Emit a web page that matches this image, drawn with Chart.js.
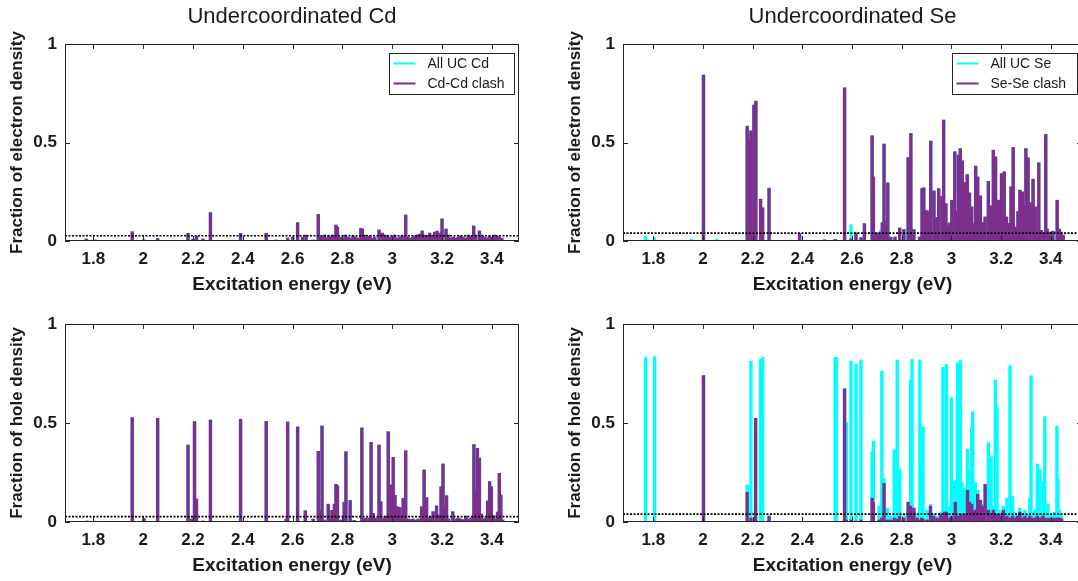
<!DOCTYPE html>
<html>
<head>
<meta charset="utf-8">
<title>Undercoordinated Cd / Se</title>
<script src="https://cdn.jsdelivr.net/npm/chart.js@4.4.1/dist/chart.umd.min.js"></script>
<style>
  html, body { margin: 0; padding: 0; background: #fff; overflow: hidden; }
  body { width: 1078px; height: 581px; position: relative; }
  canvas { position: absolute; }
</style>
</head>
<body>
<canvas id="cdElec" width="539" height="300" style="left:0;top:0"></canvas>
<canvas id="seElec" width="530" height="300" style="left:558px;top:0"></canvas>
<canvas id="cdHole" width="539" height="301" style="left:0;top:280px"></canvas>
<canvas id="seHole" width="530" height="301" style="left:558px;top:280px"></canvas>
<script>
/* ---- tick labels ---- */
const xTickValues = [1.8, 2, 2.2, 2.4, 2.6, 2.8, 3, 3.2, 3.4];
const yTickValues = [0, 0.5, 1];

/* ---- cutoff lines ---- */
const cdThreshold = 0.027;
const seThreshold = 0.04;

/* ---- Undercoordinated Cd, electron ---- */
const cdElecE = [1.771, 1.807, 1.956, 2.003, 2.058, 2.180, 2.200, 2.214, 2.240, 2.270,
  2.391, 2.494, 2.534, 2.580, 2.600, 2.620, 2.640, 2.654, 2.683, 2.703,
  2.712, 2.720, 2.728, 2.735, 2.745, 2.755, 2.763, 2.774, 2.780, 2.790,
  2.800, 2.811, 2.822, 2.832, 2.842, 2.852, 2.862, 2.874, 2.880, 2.891,
  2.900, 2.910, 2.920, 2.930, 2.947, 2.960, 2.970, 2.980, 2.990, 3.000,
  3.010, 3.020, 3.030, 3.040, 3.054, 3.062, 3.072, 3.082, 3.092, 3.100,
  3.110, 3.120, 3.130, 3.140, 3.150, 3.160, 3.170, 3.180, 3.190, 3.200,
  3.216, 3.225, 3.235, 3.245, 3.255, 3.265, 3.275, 3.285, 3.295, 3.305,
  3.315, 3.327, 3.335, 3.350, 3.360, 3.370, 3.380, 3.390, 3.400, 3.410,
  3.420, 3.430, 3.440];
const cdElecAll = [0.010, 0.005, 0.047, 0.006, 0.013, 0.039, 0.010, 0.025, 0.010, 0.144,
  0.039, 0.039, 0.005, 0.015, 0.020, 0.093, 0.020, 0.030, 0.005, 0.135,
  0.025, 0.020, 0.030, 0.015, 0.025, 0.020, 0.030, 0.081, 0.070, 0.020,
  0.015, 0.030, 0.020, 0.015, 0.025, 0.020, 0.015, 0.064, 0.060, 0.030,
  0.020, 0.025, 0.015, 0.020, 0.056, 0.040, 0.030, 0.025, 0.020, 0.020,
  0.030, 0.015, 0.020, 0.025, 0.132, 0.020, 0.015, 0.020, 0.025, 0.030,
  0.035, 0.051, 0.030, 0.025, 0.040, 0.030, 0.045, 0.050, 0.040, 0.112,
  0.061, 0.030, 0.015, 0.020, 0.015, 0.020, 0.025, 0.020, 0.015, 0.030,
  0.025, 0.076, 0.030, 0.051, 0.030, 0.020, 0.015, 0.025, 0.020, 0.030,
  0.025, 0.020, 0.015];
// every UC Cd state here is a Cd-Cd clash state
const cdElecClash = cdElecAll;

/* ---- Undercoordinated Se, electron ---- */
const seElecE = [1.769, 1.805, 1.953, 2.002, 2.056, 2.178, 2.185, 2.193, 2.205, 2.213,
  2.232, 2.240, 2.266, 2.389, 2.490, 2.533, 2.570, 2.596, 2.616, 2.636,
  2.650, 2.681, 2.686, 2.698, 2.709, 2.716, 2.722, 2.729, 2.736, 2.744,
  2.756, 2.773, 2.792, 2.809, 2.826, 2.837, 2.849, 2.872, 2.882, 2.889,
  2.896, 2.905, 2.917, 2.930, 2.940, 2.949, 2.962, 2.969, 2.978, 2.986,
  2.993, 3.002, 3.014, 3.021, 3.029, 3.036, 3.044, 3.053, 3.064, 3.073,
  3.082, 3.092, 3.098, 3.106, 3.117, 3.126, 3.136, 3.149, 3.156, 3.162,
  3.169, 3.178, 3.189, 3.202, 3.213, 3.222, 3.232, 3.240, 3.249, 3.258,
  3.268, 3.276, 3.286, 3.293, 3.300, 3.309, 3.320, 3.329, 3.338, 3.352,
  3.362, 3.370, 3.380, 3.386, 3.396, 3.409, 3.426, 3.435, 3.442, 3.450];
const seElecAll = [0.025, 0.017, 0.010, 0.842, 0.010, 0.583, 0.512, 0.559, 0.690, 0.710,
  0.212, 0.169, 0.268, 0.037, 0.006, 0.008, 0.778, 0.083, 0.046, 0.017,
  0.088, 0.534, 0.325, 0.040, 0.045, 0.055, 0.093, 0.492, 0.100, 0.295,
  0.020, 0.020, 0.066, 0.058, 0.424, 0.546, 0.058, 0.020, 0.266, 0.270,
  0.156, 0.153, 0.507, 0.254, 0.120, 0.266, 0.227, 0.614, 0.190, 0.080,
  0.092, 0.207, 0.453, 0.150, 0.436, 0.469, 0.407, 0.297, 0.337, 0.244,
  0.173, 0.088, 0.380, 0.325, 0.229, 0.093, 0.122, 0.303, 0.100, 0.178,
  0.461, 0.427, 0.207, 0.342, 0.351, 0.122, 0.090, 0.275, 0.475, 0.071,
  0.150, 0.258, 0.249, 0.180, 0.469, 0.422, 0.195, 0.314, 0.173, 0.397,
  0.054, 0.040, 0.541, 0.060, 0.045, 0.050, 0.207, 0.060, 0.045, 0.030];
const seElecClash = [0, 0, 0, 0.842, 0, 0.583, 0.512, 0.559, 0.690, 0.710,
  0.212, 0.169, 0.268, 0.037, 0.006, 0.008, 0.778, 0.010, 0.040, 0.017,
  0.088, 0.534, 0.325, 0.040, 0.040, 0.040, 0.093, 0.492, 0.100, 0.295,
  0.020, 0.020, 0.066, 0.058, 0.424, 0.546, 0.058, 0.020, 0.266, 0.270,
  0.156, 0.153, 0.507, 0.254, 0.120, 0.266, 0.227, 0.614, 0.190, 0.080,
  0.092, 0.207, 0.453, 0.150, 0.436, 0.469, 0.407, 0.297, 0.337, 0.244,
  0.173, 0.088, 0.380, 0.325, 0.229, 0.093, 0.122, 0.303, 0.100, 0.178,
  0.461, 0.427, 0.207, 0.342, 0.351, 0.122, 0.090, 0.275, 0.475, 0.071,
  0.150, 0.258, 0.249, 0.180, 0.469, 0.422, 0.195, 0.314, 0.173, 0.397,
  0.054, 0.040, 0.541, 0.060, 0.045, 0.050, 0.207, 0.060, 0.045, 0.030];

/* ---- Undercoordinated Cd, hole ---- */
const cdHoleE = [1.774, 1.807, 1.956, 2.003, 2.058, 2.180, 2.194, 2.206, 2.214, 2.240,
  2.270, 2.391, 2.494, 2.574, 2.580, 2.620, 2.651, 2.683, 2.703, 2.710,
  2.718, 2.727, 2.743, 2.750, 2.758, 2.768, 2.774, 2.780, 2.794, 2.807,
  2.814, 2.831, 2.847, 2.878, 2.887, 2.894, 2.907, 2.915, 2.923, 2.934,
  2.947, 2.954, 2.967, 2.976, 2.984, 2.995, 3.004, 3.011, 3.020, 3.031,
  3.038, 3.044, 3.054, 3.064, 3.074, 3.083, 3.094, 3.104, 3.118, 3.128,
  3.138, 3.147, 3.155, 3.164, 3.178, 3.187, 3.196, 3.204, 3.210, 3.218,
  3.227, 3.243, 3.254, 3.264, 3.275, 3.286, 3.296, 3.307, 3.318, 3.328,
  3.334, 3.342, 3.350, 3.358, 3.367, 3.375, 3.383, 3.391, 3.398, 3.407,
  3.414, 3.423, 3.430, 3.436, 3.443];
const cdHoleAll = [0.005, 0.004, 0.527, 0.018, 0.524, 0.389, 0.015, 0.507, 0.116, 0.005,
  0.515, 0.519, 0.508, 0.015, 0.505, 0.480, 0.057, 0.015, 0.357, 0.060,
  0.485, 0.010, 0.090, 0.020, 0.059, 0.090, 0.190, 0.183, 0.010, 0.100,
  0.355, 0.109, 0.008, 0.475, 0.015, 0.020, 0.020, 0.402, 0.044, 0.020,
  0.389, 0.103, 0.020, 0.030, 0.456, 0.187, 0.327, 0.135, 0.077, 0.074,
  0.020, 0.120, 0.360, 0.015, 0.012, 0.015, 0.010, 0.015, 0.077, 0.263,
  0.123, 0.020, 0.025, 0.052, 0.081, 0.035, 0.178, 0.293, 0.074, 0.133,
  0.015, 0.052, 0.015, 0.020, 0.015, 0.012, 0.030, 0.015, 0.020, 0.391,
  0.157, 0.372, 0.323, 0.040, 0.015, 0.020, 0.106, 0.204, 0.178, 0.032,
  0.015, 0.050, 0.246, 0.136, 0.010];
const cdHoleClash = cdHoleAll;

/* ---- Undercoordinated Se, hole ---- */
const seHoleE = [1.769, 1.805, 2.002, 2.178, 2.193, 2.212, 2.232, 2.240, 2.266, 2.532,
  2.537, 2.570, 2.577, 2.596, 2.616, 2.636, 2.681, 2.686, 2.709, 2.720,
  2.729, 2.742, 2.756, 2.770, 2.782, 2.792, 2.809, 2.826, 2.836, 2.842,
  2.849, 2.862, 2.873, 2.880, 2.886, 2.902, 2.916, 2.929, 2.942, 2.956,
  2.966, 2.973, 2.980, 2.989, 3.000, 3.006, 3.016, 3.025, 3.036, 3.042,
  3.053, 3.065, 3.073, 3.082, 3.086, 3.096, 3.106, 3.117, 3.126, 3.136,
  3.149, 3.160, 3.169, 3.177, 3.184, 3.192, 3.200, 3.209, 3.217, 3.224,
  3.236, 3.246, 3.256, 3.266, 3.276, 3.286, 3.296, 3.306, 3.316, 3.321,
  3.330, 3.338, 3.346, 3.356, 3.362, 3.369, 3.376, 3.389, 3.402, 3.416,
  3.425, 3.429, 3.436, 3.444];
const seHoleAll = [0.830, 0.835, 0.739, 0.187, 0.813, 0.524, 0.823, 0.832, 0.030, 0.830,
  0.832, 0.672, 0.502, 0.813, 0.798, 0.818, 0.355, 0.409, 0.080, 0.763,
  0.220, 0.070, 0.030, 0.364, 0.818, 0.268, 0.040, 0.100, 0.717, 0.821,
  0.070, 0.040, 0.818, 0.260, 0.481, 0.060, 0.090, 0.040, 0.030, 0.050,
  0.781, 0.060, 0.796, 0.080, 0.628, 0.200, 0.209, 0.801, 0.815, 0.200,
  0.170, 0.367, 0.260, 0.478, 0.557, 0.200, 0.160, 0.110, 0.090, 0.190,
  0.400, 0.330, 0.080, 0.717, 0.582, 0.060, 0.050, 0.080, 0.060, 0.120,
  0.790, 0.130, 0.050, 0.040, 0.070, 0.040, 0.060, 0.040, 0.120, 0.739,
  0.050, 0.060, 0.293, 0.266, 0.060, 0.204, 0.532, 0.090, 0.040, 0.050,
  0.485, 0.220, 0.060, 0.030];
const seHoleClash = [0, 0, 0.739, 0.150, 0.020, 0.524, 0, 0, 0.030, 0,
  0, 0.672, 0.010, 0.010, 0.005, 0.010, 0.120, 0.100, 0.010, 0.020,
  0.195, 0.010, 0.010, 0.020, 0.015, 0.030, 0.020, 0.100, 0.080, 0.040,
  0.070, 0.020, 0.010, 0.020, 0.015, 0.010, 0.080, 0.030, 0.020, 0.040,
  0.030, 0.050, 0.050, 0.020, 0.030, 0.020, 0.100, 0.030, 0.040, 0.030,
  0.040, 0.160, 0.100, 0.090, 0.050, 0.060, 0.140, 0.110, 0.080, 0.190,
  0.060, 0.040, 0.060, 0.030, 0.040, 0.040, 0.030, 0.060, 0.020, 0.030,
  0.020, 0.030, 0.020, 0.030, 0.050, 0.020, 0.030, 0.020, 0.030, 0.020,
  0.020, 0.020, 0.030, 0.020, 0.020, 0.030, 0.020, 0.020, 0.020, 0.020,
  0.020, 0.020, 0.020, 0.015];

/* ---- styling ---- */
const CYAN = "#00ffff";
const PURPLE = "#7e2f8e";
const INK = "#1a1a1a";
const FONT = '"Liberation Sans", Arial, Helvetica, sans-serif';
Chart.defaults.font.family = FONT;
Chart.defaults.color = INK;

/**
 * Box frame with inward ticks, in-axes legend and panel title.
 */
const panelDecor = {
  id: "panelDecor",
  afterDatasetsDraw(chart, args, opts) {
    const { ctx, chartArea: a, scales: { x, y } } = chart;
    ctx.save();
    ctx.strokeStyle = "#262626";
    ctx.lineWidth = 1;
    ctx.beginPath();
    xTickValues.forEach((v) => {
      const px = Math.round(x.getPixelForValue(v)) + 0.5;
      ctx.moveTo(px, a.top); ctx.lineTo(px, a.top + 5);
      ctx.moveTo(px, a.bottom); ctx.lineTo(px, a.bottom - 5);
    });
    yTickValues.forEach((v) => {
      const py = Math.round(y.getPixelForValue(v)) + 0.5;
      ctx.moveTo(a.left, py); ctx.lineTo(a.left + 5, py);
      ctx.moveTo(a.right, py); ctx.lineTo(a.right - 5, py);
    });
    ctx.stroke();
    ctx.strokeRect(Math.round(a.left) + 0.5, Math.round(a.top) + 0.5,
      Math.round(a.width) - 1, Math.round(a.height) - 1);

    if (opts.legend) {
      const items = chart.data.datasets.filter((d) => d.label);
      const w = 125, h = 41;
      const bx = Math.round(a.right - 5 - w) + 0.5;
      const by = Math.round(a.top + 9) + 0.5;
      ctx.fillStyle = "#fff";
      ctx.fillRect(bx, by, w, h);
      ctx.strokeStyle = "#262626";
      ctx.strokeRect(bx, by, w, h);
      ctx.font = "14px " + FONT;
      ctx.textBaseline = "middle";
      ctx.textAlign = "left";
      items.forEach((d, i) => {
        const ly = by + 10 + i * 20;
        ctx.strokeStyle = d.backgroundColor;
        ctx.lineWidth = 2;
        ctx.beginPath();
        ctx.moveTo(bx + 4, ly); ctx.lineTo(bx + 26, ly);
        ctx.stroke();
        ctx.fillStyle = INK;
        ctx.fillText(d.label, bx + 38, ly + 1);
      });
    }
    if (opts.title) {
      ctx.font = "22px " + FONT;
      ctx.fillStyle = INK;
      ctx.textAlign = "center";
      ctx.textBaseline = "middle";
      ctx.fillText(opts.title, (a.left + a.right) / 2, a.top - 27);
    }
    ctx.restore();
  },
};

function pts(xs, ys) {
  return xs.map((e, i) => ({ x: e, y: ys[i] }));
}

function makePanel(id, p) {
  new Chart(document.getElementById(id), {
    type: "bar",
    data: {
      datasets: [
        { label: p.allLabel, data: pts(p.energies, p.all), backgroundColor: CYAN,
          grouped: false, barThickness: 2.7, order: 2 },
        { label: p.clashLabel, data: pts(p.energies, p.clash), backgroundColor: PURPLE,
          grouped: false, barThickness: 2.7, order: 1 },
        { type: "line", data: [{ x: p.xMin, y: p.threshold }, { x: p.xMax, y: p.threshold }],
          borderColor: "#000", borderWidth: 1.6, borderDash: [2, 1.5],
          pointRadius: 0, order: 0 },
      ],
    },
    options: {
      responsive: false,
      animation: false,
      events: [],
      layout: { padding: { top: 44, right: p.padRight, left: 0, bottom: 0 } },
      plugins: {
        legend: { display: false },
        tooltip: { enabled: false },
        panelDecor: { legend: p.legend, title: p.title },
      },
      scales: {
        x: {
          type: "linear",
          min: p.xMin,
          max: p.xMax,
          offset: false,
          grid: { display: false, drawTicks: false, offset: false },
          border: { display: false },
          afterBuildTicks: (s) => { s.ticks = xTickValues.map((v) => ({ value: v })); },
          afterFit: (s) => { s.height = 59; },
          ticks: { padding: 8, maxRotation: 0, autoSkip: false, color: INK,
            font: { size: 17, weight: "bold" }, callback: (v) => String(v) },
          title: { display: true, text: "Excitation energy (eV)", color: INK,
            font: { size: 19, weight: "bold" }, padding: { top: 0, bottom: 4 } },
        },
        y: {
          min: 0,
          max: 1,
          grid: { display: false, drawTicks: false },
          border: { display: false },
          afterBuildTicks: (s) => { s.ticks = yTickValues.map((v) => ({ value: v })); },
          afterFit: (s) => { s.width = 65; },
          ticks: { padding: 8, color: INK, font: { size: 17, weight: "bold" },
            callback: (v) => String(v) },
          title: { display: true, text: p.yTitle, color: INK,
            font: { size: 17, weight: "bold" }, padding: { top: 7, bottom: 0 } },
        },
      },
    },
    plugins: [panelDecor],
  });
}

makePanel("cdElec", {
  energies: cdElecE, all: cdElecAll, clash: cdElecClash,
  allLabel: "All UC Cd", clashLabel: "Cd-Cd clash", legend: true,
  title: "Undercoordinated Cd", yTitle: "Fraction of electron density",
  threshold: cdThreshold, xMin: 1.686, xMax: 3.509, padRight: 20,
});
makePanel("seElec", {
  energies: seElecE, all: seElecAll, clash: seElecClash,
  allLabel: "All UC Se", clashLabel: "Se-Se clash", legend: true,
  title: "Undercoordinated Se", yTitle: "Fraction of electron density",
  threshold: seThreshold, xMin: 1.678, xMax: 3.526, padRight: 6,
});
makePanel("cdHole", {
  energies: cdHoleE, all: cdHoleAll, clash: cdHoleClash,
  allLabel: "All UC Cd", clashLabel: "Cd-Cd clash", legend: false,
  title: null, yTitle: "Fraction of hole density",
  threshold: cdThreshold, xMin: 1.686, xMax: 3.509, padRight: 20,
});
makePanel("seHole", {
  energies: seHoleE, all: seHoleAll, clash: seHoleClash,
  allLabel: "All UC Se", clashLabel: "Se-Se clash", legend: false,
  title: null, yTitle: "Fraction of hole density",
  threshold: seThreshold, xMin: 1.678, xMax: 3.526, padRight: 6,
});
</script>
</body>
</html>
